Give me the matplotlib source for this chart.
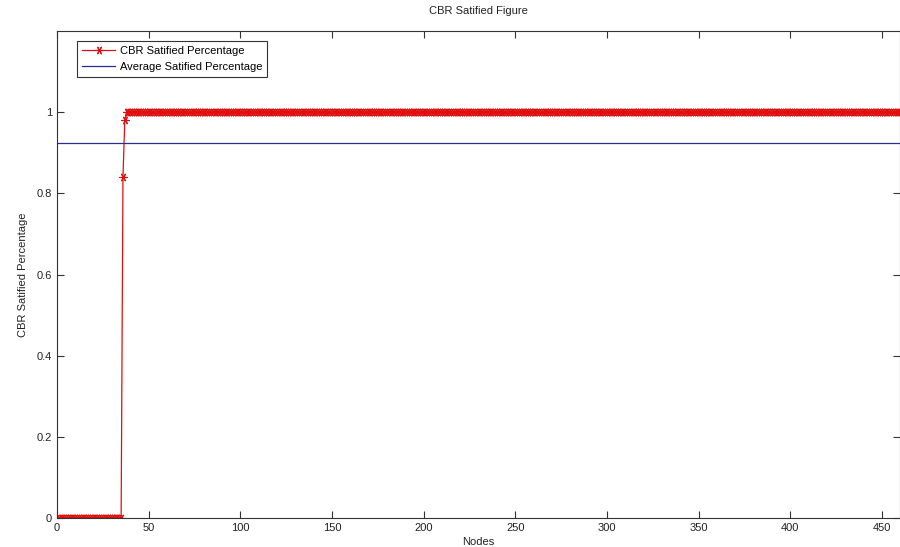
import numpy as np
import matplotlib
matplotlib.use("Agg")
from matplotlib import pyplot as plt

plt.rcParams['font.family'] = ['Liberation Sans', 'DejaVu Sans']

# satisfied percentage per node: the first nodes are unsatisfied, then it jumps to 1
n_nodes = 460
n_zero = 35
ramp = [0.84, 0.98]

nodes = np.arange(1, n_nodes + 1)
satisfied = np.array([0.0] * n_zero + ramp + [1.0] * (n_nodes - n_zero - len(ramp)))
average = satisfied.mean()

fig = plt.figure(figsize=(9, 5.47), dpi=100)
ax = fig.add_axes([0.0633, 0.053, 0.937, 0.8903])

# asterisk marker like the matlab '*-' style
ax.plot(nodes, satisfied, color='#e01010', lw=0.9, marker=(6, 2, 90), ms=6, mew=0.8,
        label='CBR Satified Percentage')
ax.axhline(average, color='#2a2a9a', lw=0.9, label='Average Satified Percentage')

ax.set_xlim(0, 460)
ax.set_ylim(0, 1.2)
ax.set_xticks(np.arange(0, 451, 50))
ax.set_yticks([0, 0.2, 0.4, 0.6, 0.8, 1])
ax.set_yticklabels(['0', '0.2', '0.4', '0.6', '0.8', '1'])
ax.tick_params(direction='in', top=True, right=True, labelsize=8, length=5, width=0.8,
               colors='#333333', labelcolor='#222222')
for s in ax.spines.values():
    s.set_linewidth(0.8)
    s.set_color('#333333')

ax.set_title('CBR Satified Figure', fontsize=8, pad=12, color='#222222')
ax.set_xlabel('Nodes', fontsize=8, labelpad=3, color='#222222')
ax.set_ylabel('CBR Satified Percentage', fontsize=8, labelpad=6, color='#222222')

leg = ax.legend(loc='upper left', bbox_to_anchor=(0.0237, 0.979), borderaxespad=0,
                fontsize=8, fancybox=False, edgecolor='#333333', framealpha=1,
                handlelength=3.0, handletextpad=0.4, borderpad=0.45, labelspacing=0.55)
leg.get_frame().set_linewidth(0.8)

fig.savefig('out.png', dpi=100)
